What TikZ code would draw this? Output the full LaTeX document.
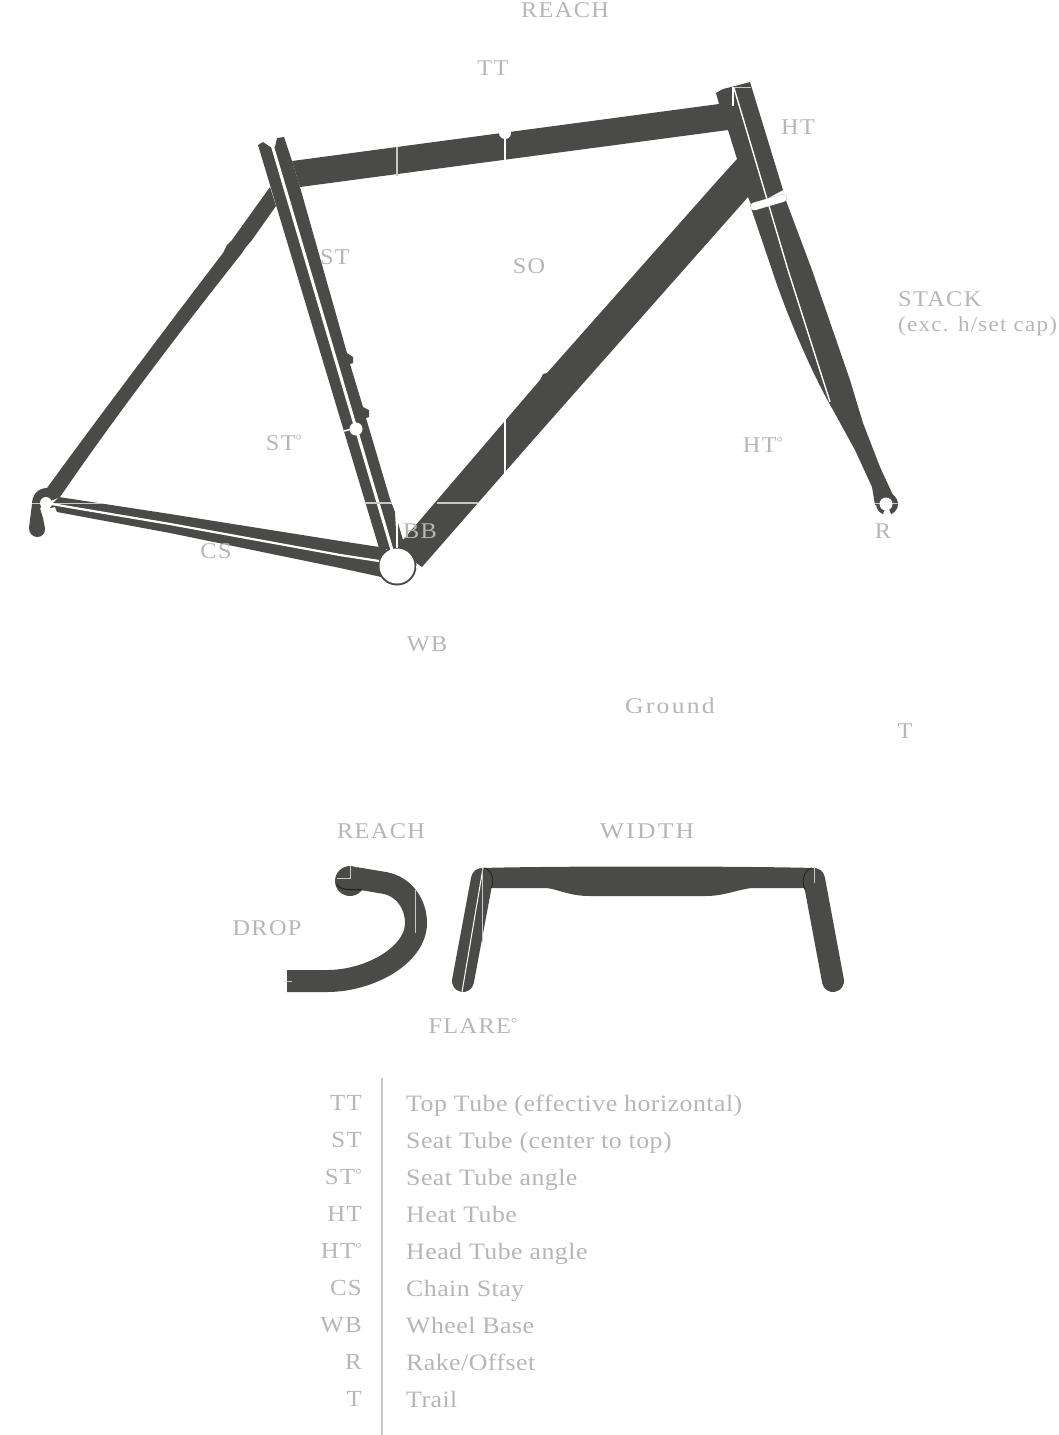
\documentclass[tikz,border=0pt]{standalone}
\usepackage{fontspec}
\setmainfont{Liberation Serif}[FakeStretch=1.1,LetterSpace=2]
\newfontfamily\lblfont{Liberation Serif}[FakeStretch=1.08,LetterSpace=6]
\newfontfamily\lblwidefont{Liberation Serif}[FakeStretch=1.14,LetterSpace=10]
\newcommand{\dgr}{{\fontsize{15}{15}\selectfont\raisebox{4.5pt}{°}}}
\definecolor{frame}{HTML}{4A4A48}
\definecolor{lbl}{HTML}{B6B6B6}
\definecolor{tick}{HTML}{C8C8C8}
\definecolor{arcdark}{HTML}{222222}
\tikzset{
  tube/.style={fill=frame,draw=none},
  cutline/.style={draw=white,line width=#1},
  cutline/.default=2.5pt,
  fineline/.style={draw=tick,line width=1.3pt},
  hole/.style={fill=white,draw=none},
  bar/.style={draw=frame,line width=22pt},
  barend/.style={draw=frame,line width=22pt,line cap=round},
  tag/.style={text=lbl,font=\lblfont\fontsize{22.5}{26}\selectfont,inner sep=0pt,anchor=base},
  tagwide/.style={tag,font=\lblwidefont\fontsize{22.5}{26}\selectfont},
  tagw/.style={tag,anchor=base west},
  keyl/.style={text=lbl,font=\lblfont\fontsize{23}{26}\selectfont,inner sep=0pt,anchor=base east},
  keyr/.style={text=lbl,font=\rmfamily\fontsize{23.5}{26}\selectfont,inner sep=0pt,anchor=base west},
  rule/.style={draw=tick,line width=2pt}
}
\begin{document}
\begin{tikzpicture}[x=1pt,y=-1pt]
\useasboundingbox (0,0) rectangle (1058,1435);
% seat stay + rear dropout
\path[tube] (270,187) -- (232,240) -- (227,245) -- (223,253) .. controls (190,296) and (100,415) .. (47,488)
  .. controls (38,488) and (32,495) .. (32,504) -- (29,528)
  .. controls (29,540) and (46,540) .. (45,528) -- (43,518) -- (40,508) -- (46,503) -- (60,497)
  .. controls (130,395) and (205,300) .. (242,253) -- (246,247) -- (252,240) -- (276,206) -- cycle;
% chain stay
\path[tube] (59,497) -- (170,514) -- (340,541) -- (386,548) -- (386,578) -- (340,568) -- (170,533) -- (57,512) -- (55,507) -- (50,508) -- (53,503) -- cycle;
% top tube, head and down tube
\path[tube] (292,161) -- (719,104) -- (716,93) -- (723,89) -- (735,86) -- (750,82) -- (783,190) -- (752,207) -- (748,197)
  -- (533,440) -- (422,567) -- (398,550) -- (398,523) -- (403,540) -- (510,415) -- (540,380)
  -- (543,374) -- (547,373) -- (718,180) -- (737,159) -- (728,130) -- (300,187) -- cycle;
% seat tube
\path[tube] (258,145) -- (263,142) -- (272,148) -- (275,147) -- (277,138) -- (284,137) -- (292,161) -- (300,187)
  -- (347,353) -- (353,357) -- (353,363) -- (350,364) -- (363,407) -- (369,410) -- (369,417) -- (366,418)
  -- (390,499) -- (395,512) -- (397,550) -- (379,548) -- cycle;
% fork
\path[tube] (750,205) -- (785,198) -- (812,270) -- (850,380) -- (863,423) -- (880,467) -- (892,493) -- (898,503) -- (897,508) -- (875,505)
  -- (872,487) -- (855,450) -- (833,410) .. controls (810,370) and (785,310) .. (772,270) -- cycle;
\path[tube] (887,504) circle (11);
% BB shell
\path[tube] (397,566) circle (19.5);
% cuts
\draw[cutline=3pt] (272.7,147) -- (392,550);
\draw[cutline=1.4pt] (734,88) -- (788,270) -- (830,402);
\draw[cutline=2pt] (397,512) -- (397,548);
\draw[cutline=2pt] (505,134) -- (505,160);
\draw[cutline=2pt] (505,418) -- (505,475);
\draw[fineline,line width=1.5pt] (397,147) -- (397,176);
\draw[fineline,line width=1pt] (32,503) -- (103,503);
\draw[cutline=2.2pt] (46,503) -- (75,508) -- (170,524) -- (340,555) -- (379,561);
\draw[fineline] (365,503) -- (392,503);
\draw[fineline] (437,503) -- (478,503);
\draw[fineline,line width=1pt] (734,87) -- (751,87);
\draw[cutline=1.3pt] (733,87) -- (733,106);
\draw[fineline,line width=1pt] (875,503) -- (898,503);
\draw[cutline=1.5pt] (344,431) -- (352,429);
\draw[cutline=1.3pt] (416,567) -- (420,567);
\draw[line width=8pt,draw=tick,line cap=round] (754,206.5) -- (783,198);
\draw[line width=7pt,draw=white,line cap=round] (754,206.5) -- (783,198);
% holes
\path[hole] (505,133) circle (6);
\path[hole] (356,429) circle (6.5);
\path[hole] (46,503) circle (6);
\path[hole] (397,566) circle (17.5);
\path[hole] (886,504) circle (6.5);
\path[hole] (887,504) -- (882,517) -- (892,517) -- cycle;
% side bar
\path[tube] (350,881) circle (15);
\draw[bar] (355,878) -- (385,883) .. controls (405,887) and (416,905) .. (416,923)
  .. controls (416,955) and (370,981) .. (327,981) -- (287,981);
\draw[arcdark,line width=1pt] (337,884) .. controls (339,889) and (345,889.5) .. (350,889.5) -- (362,889.5);
\draw[fineline,line width=1pt] (350,866) -- (350,878);
\draw[fineline,line width=1pt] (337,878) -- (351,878);
\draw[fineline,line width=1pt] (415,890) -- (415,933);
\draw[fineline,line width=1pt] (287,981) -- (292,981);
% front bar
\path[tube] (482,868) .. controls (550,866) and (740,866) .. (814,868) -- (814,888) -- (752,888)
  .. controls (735,890) and (725,896) .. (705,896) -- (590,896)
  .. controls (570,896) and (560,890) .. (547,888) -- (482,888) -- cycle;
\draw[barend] (482,879) -- (463,981);
\draw[barend] (814,879) -- (833,981);
\draw[arcdark,line width=.8pt] (484,868) .. controls (492,870) and (495,880) .. (491,888);
\draw[arcdark,line width=.8pt] (812,868) .. controls (804,870) and (801,880) .. (805,890);
\draw[cutline=1pt] (483,868) -- (462,992);
\draw[fineline,line width=.9pt] (482,868) -- (482,942);
\draw[fineline,line width=1pt] (814,867) -- (814,883);
% labels
\node[tag] (reachF) at (565,17) {REACH};
\node[tag] (tt) at (493,75) {TT};
\node[tag] (ht) at (798,134) {HT};
\node[tag] (st) at (335,264) {ST};
\node[tag] (so) at (529,273) {SO};
\node[tagw] (stack) at (898,306) {STACK};
\node[tagw,font=\lblfont\fontsize{21.3}{26}\selectfont] (exc) at (898,331) {(exc. h/set cap)};
\node[tag] (sta) at (284,450) {ST\dgr};
\node[tag] (hta) at (763,452) {HT\dgr};
\node[tag] (bb) at (420,538) {BB};
\node[tag] (r) at (883,538) {R};
\node[tag] (cs) at (216,558) {CS};
\node[tag] (wb) at (427,651) {WB};
\node[tagwide] (gnd) at (670,713) {Ground};
\node[tag] (t) at (905,738) {T};
\node[tag] (reachB) at (381,838) {REACH};
\node[tagwide] (width) at (647,838) {WIDTH};
\node[tag] (drop) at (267,935) {DROP};
\node[tag] (flare) at (473,1033) {FLARE\dgr};
% legend
\draw[rule] (382,1078) -- (382,1435);
\node[keyl] (k1) at (362,1110) {TT};   \node[keyr] (v1) at (406,1111) {Top Tube (effective horizontal)};
\node[keyl] (k2) at (362,1147) {ST};   \node[keyr] (v2) at (406,1148) {Seat Tube (center to top)};
\node[keyl] (k3) at (362,1184) {ST\dgr};  \node[keyr] (v3) at (406,1185) {Seat Tube angle};
\node[keyl] (k4) at (362,1221) {HT};   \node[keyr] (v4) at (406,1222) {Heat Tube};
\node[keyl] (k5) at (362,1258) {HT\dgr};  \node[keyr] (v5) at (406,1259) {Head Tube angle};
\node[keyl] (k6) at (362,1295) {CS};   \node[keyr] (v6) at (406,1296) {Chain Stay};
\node[keyl] (k7) at (362,1332) {WB};   \node[keyr] (v7) at (406,1333) {Wheel Base};
\node[keyl] (k8) at (362,1369) {R};    \node[keyr] (v8) at (406,1370) {Rake/Offset};
\node[keyl] (k9) at (362,1406) {T};    \node[keyr] (v9) at (406,1407) {Trail};
\end{tikzpicture}
\end{document}
